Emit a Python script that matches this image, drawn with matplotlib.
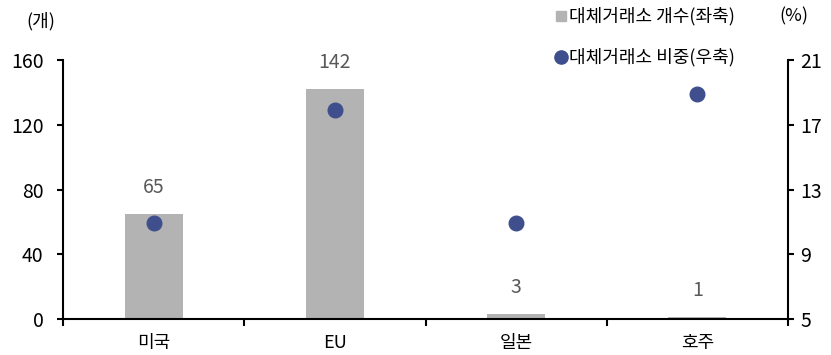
import numpy as np
import matplotlib.pyplot as plt
from matplotlib.lines import Line2D

plt.rcParams['font.family'] = ['Noto Sans CJK KR', 'DejaVu Sans']

countries = ['미국', 'EU', '일본', '호주']
count_vals = [65, 142, 3, 1]        # 대체거래소 개수 (좌축)
share_vals = [10.9, 17.9, 10.9, 18.9]  # 대체거래소 비중 (우축, %)

left_ticks = [0, 40, 80, 120, 160]
right_ticks = [5, 9, 13, 17, 21]

bar_col = '#b3b3b3'
dot_col = '#3f4f8d'
W, H = 831, 355

fig = plt.figure(figsize=(W / 100, H / 100), dpi=100)
ax = fig.add_axes([63 / W, 1 - 319 / H, (788 - 63) / W, (319 - 60) / H])
ax2 = ax.twinx()

x = np.arange(len(countries))
ax.bar(x, count_vals, width=0.32, color=bar_col, zorder=2)
for xi, v in zip(x, count_vals):
    ax.annotate(str(v), (xi, v), xytext=(0, 19), textcoords='offset points',
                ha='center', va='center', fontsize=14, color='#595959')

ax2.plot(x, share_vals, 'o', color=dot_col, markersize=10.5, zorder=3)

ax.set_xlim(-0.5, len(countries) - 0.5)
ax.set_ylim(0, 160)
ax2.set_ylim(5, 21)
ax.set_yticks(left_ticks)
ax2.set_yticks(right_ticks)

# 카테고리 경계에 눈금, 가운데에 라벨
ax.set_xticks(np.arange(-0.5, len(countries), 1.0))
ax.set_xticklabels([])
ax.set_xticks(x, minor=True)
ax.set_xticklabels(countries, minor=True, fontsize=13)
ax.tick_params(axis='x', which='minor', length=0, pad=11)
ax.tick_params(axis='x', which='major', length=5, width=1.5, direction='out')
ax.tick_params(axis='y', length=4, width=1.5, direction='out', labelsize=14, pad=10)
ax2.tick_params(axis='y', length=4, width=1.5, direction='out', labelsize=14, pad=5)

for a in (ax, ax2):
    a.spines['top'].set_visible(False)
    for s in a.spines.values():
        s.set_linewidth(1.5)
ax2.spines['left'].set_visible(False)
ax2.spines['bottom'].set_visible(False)
ax.spines['right'].set_visible(False)

# 단위 표시
fig.text(41 / W, 1 - 21 / H, '(개)', ha='center', va='center', fontsize=13)
fig.text(794 / W, 1 - 16 / H, '(%)', ha='center', va='center', fontsize=13)

# 범례
fig.add_artist(Line2D([561 / W], [1 - 16 / H], marker='s', markersize=6.5,
                      color=bar_col, linestyle='none', transform=fig.transFigure))
fig.add_artist(Line2D([561 / W], [1 - 57 / H], marker='o', markersize=9.5,
                      color=dot_col, linestyle='none', transform=fig.transFigure))
fig.text(569 / W, 1 - 16 / H, '대체거래소 개수(좌축)', ha='left', va='center', fontsize=13)
fig.text(569 / W, 1 - 57 / H, '대체거래소 비중(우축)', ha='left', va='center', fontsize=13)

fig.savefig('out.png', dpi=100)
